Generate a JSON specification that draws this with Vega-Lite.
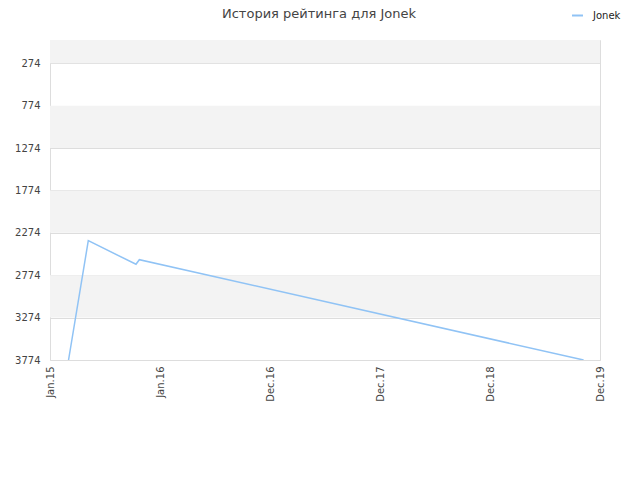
{
  "$schema": "https://vega.github.io/schema/vega-lite/v6.json",
  "width": 550,
  "height": 320,
  "autosize": {"type": "none"},
  "padding": {"left": 50, "top": 40, "right": 40, "bottom": 120},
  "background": "white",
  "config": {
    "font": "DejaVu Sans",
    "view": {"stroke": "#dddddd", "strokeWidth": 1}
  },
  "title": {
    "text": "История рейтинга для Jonek",
    "fontSize": 13,
    "fontWeight": "normal",
    "color": "#444444",
    "anchor": "middle",
    "dx": -6,
    "offset": -12
  },
  "datasets": {
    "bands": [
      {"from": 0, "to": 274},
      {"from": 774, "to": 1274},
      {"from": 1774, "to": 2274},
      {"from": 2774, "to": 3274}
    ],
    "rating": [
      {"date": "2015-03-07", "rank": 3774, "player": "Jonek"},
      {"date": "2015-05-11", "rank": 2367, "player": "Jonek"},
      {"date": "2015-10-15", "rank": 2645, "player": "Jonek"},
      {"date": "2015-10-26", "rank": 2591, "player": "Jonek"},
      {"date": "2019-10-27", "rank": 3774, "player": "Jonek"}
    ]
  },
  "layer": [
    {
      "data": {"name": "bands"},
      "mark": {"type": "rect", "color": "#f3f3f3"},
      "encoding": {
        "y": {"field": "from", "type": "quantitative", "scale": {"domain": [0, 3774], "reverse": true, "nice": false, "zero": false}},
        "y2": {"field": "to"}
      }
    },
    {
      "data": {"name": "rating"},
      "mark": {"type": "line", "strokeWidth": 1.5, "clip": true},
      "encoding": {
        "x": {
          "field": "date",
          "type": "temporal",
          "scale": {"type": "utc", "domain": ["2015-01-05", "2019-12-20"]},
          "axis": {
            "title": null,
            "values": ["2015-01-05", "2016-01-02", "2016-12-29", "2017-12-26", "2018-12-23", "2019-12-20"],
            "labelExpr": "utcFormat(datum.value, '%b.%y')",
            "labelAngle": -90,
            "labelAlign": "right",
            "labelBaseline": "middle",
            "labelFontSize": 10,
            "labelColor": "#444444",
            "labelPadding": 6,
            "ticks": false,
            "grid": false,
            "domain": false
          }
        },
        "y": {
          "field": "rank",
          "type": "quantitative",
          "scale": {"domain": [0, 3774], "reverse": true, "nice": false, "zero": false},
          "axis": {
            "title": null,
            "values": [274, 774, 1274, 1774, 2274, 2774, 3274, 3774],
            "format": "d",
            "labelFontSize": 10,
            "labelColor": "#444444",
            "labelPadding": 10,
            "ticks": false,
            "domain": false,
            "grid": true,
            "gridColor": "#dddddd"
          }
        },
        "color": {
          "field": "player",
          "type": "nominal",
          "scale": {"range": ["#90c3f5"]},
          "legend": {
            "title": null,
            "orient": "none",
            "legendX": 521,
            "legendY": -31,
            "symbolType": "stroke",
            "symbolStrokeWidth": 2,
            "symbolSize": 120,
            "labelOffset": 9,
            "labelFontSize": 10,
            "labelColor": "#222222"
          }
        }
      }
    }
  ]
}
